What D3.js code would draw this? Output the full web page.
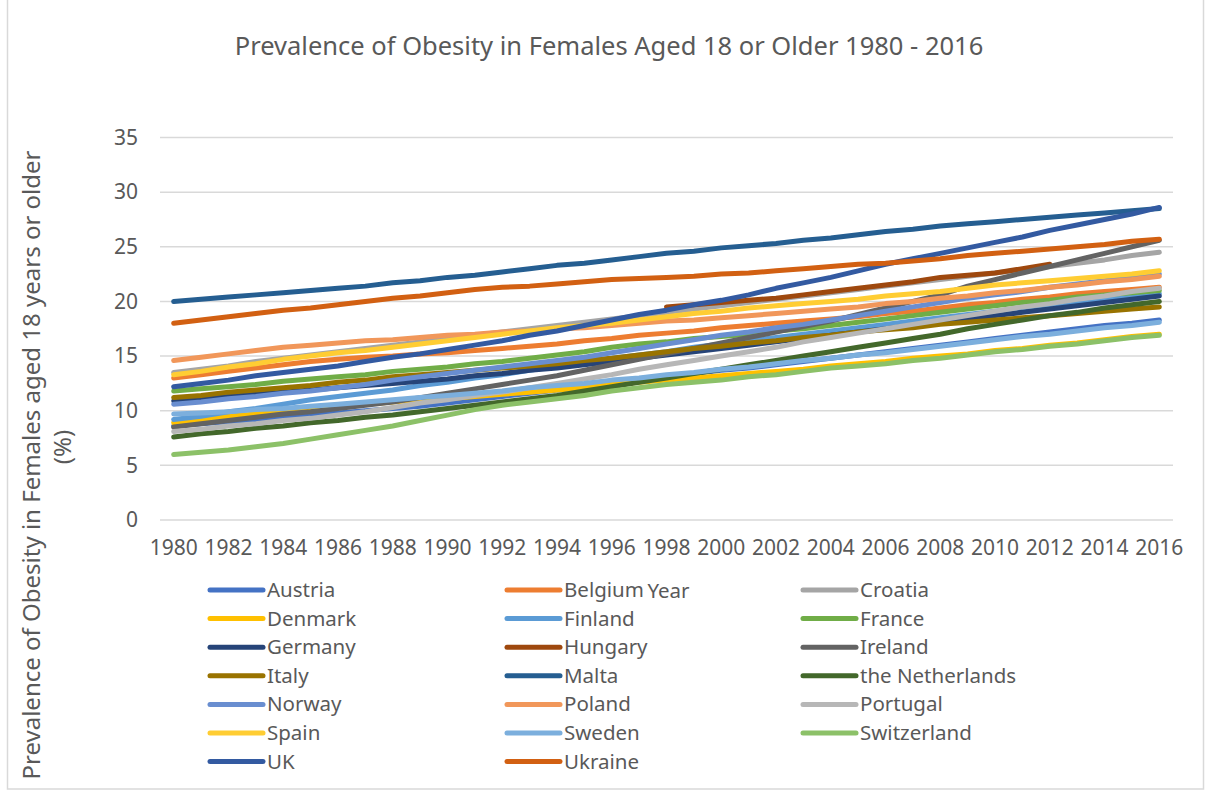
<!DOCTYPE html>
<html>
<head>
<meta charset="utf-8">
<script src="https://cdn.jsdelivr.net/npm/d3@7"></script>
<style>
  body { margin: 0; background: #fff; }
  text { font-family: "Noto Sans", "Open Sans", sans-serif; fill: #595959; }
</style>
</head>
<body>
<div id="chart"></div>
<script>
// years on the category axis
const years = [1980,1981,1982,1983,1984,1985,1986,1987,1988,1989,
               1990,1991,1992,1993,1994,1995,1996,1997,1998,1999,
               2000,2001,2002,2003,2004,2005,2006,2007,2008,2009,
               2010,2011,2012,2013,2014,2015,2016];
const xTickLabels = [1980,1982,1984,1986,1988,1990,1992,1994,1996,1998,
                     2000,2002,2004,2006,2008,2010,2012,2014,2016];
const yTicks = [0,5,10,15,20,25,30,35];

const countries = ["Austria","Belgium","Croatia","Denmark","Finland","France","Germany",
                   "Hungary","Ireland","Italy","Malta","the Netherlands","Norway","Poland",
                   "Portugal","Spain","Sweden","Switzerland","UK","Ukraine"];
const colors = ["#4472C4","#ED7D31","#A5A5A5","#FFC000","#5B9BD5","#70AD47","#264478",
                "#9E480E","#636363","#997300","#255E91","#43682B","#698ED0","#F1975A",
                "#B7B7B7","#FFCD33","#7CAFDD","#8CC168","#335AA1","#D26012"];

// obesity prevalence (%) per year
const austria = [8.6,8.8,9.0,9.2,9.4,9.6,9.8,10.0,10.2,10.4, 10.7,11.0,11.3,11.6,11.9,12.2,12.5,12.8,13.1,13.4,
                 13.7,13.9,14.2,14.5,14.8,15.1,15.4,15.7,16.0,16.3, 16.6,16.9,17.2,17.5,17.8,18.0,18.3];
const belgium = [13.0,13.3,13.6,13.9,14.2,14.5,14.7,14.9,15.0,15.2, 15.3,15.5,15.7,15.9,16.1,16.4,16.6,16.9,17.1,17.3,
                 17.6,17.8,18.0,18.2,18.4,18.6,18.9,19.1,19.4,19.7, 19.9,20.2,20.4,20.7,20.9,21.1,21.3];
const croatia = [13.5,13.8,14.1,14.5,14.8,15.1,15.4,15.7,16.0,16.3, 16.6,16.9,17.2,17.5,17.8,18.1,18.4,18.7,19.0,19.3,
                 19.6,19.9,20.2,20.5,20.8,21.1,21.4,21.7,22.0,22.3, 22.6,22.9,23.2,23.5,23.8,24.2,24.5];
const denmark = [8.9,9.2,9.5,9.7,10.0,10.2,10.4,10.6,10.8,11.0, 11.1,11.3,11.5,11.7,11.9,12.1,12.4,12.6,12.8,13.0,
                 13.2,13.4,13.6,13.8,14.1,14.3,14.5,14.8,15.0,15.2, 15.5,15.7,16.0,16.2,16.5,16.8,17.0];
const finland = [9.2,9.5,9.9,10.2,10.6,11.0,11.3,11.6,11.9,12.3, 12.6,13.0,13.3,13.7,14.1,14.4,14.8,15.1,15.4,15.8,
                 16.1,16.4,16.7,17.0,17.3,17.6,17.9,18.2,18.5,18.8, 19.1,19.4,19.7,20.0,20.2,20.5,20.7];
const france = [11.8,12.0,12.2,12.4,12.7,12.9,13.1,13.3,13.6,13.8, 14.0,14.3,14.5,14.8,15.1,15.4,15.8,16.1,16.3,16.6,
                16.8,17.0,17.3,17.5,17.8,18.1,18.4,18.7,19.0,19.3, 19.6,19.9,20.1,20.4,20.6,20.8,21.0];
const germany = [10.9,11.1,11.3,11.5,11.7,11.9,12.1,12.3,12.5,12.7, 12.9,13.2,13.4,13.7,13.9,14.2,14.5,14.8,15.1,15.4,
                 15.7,16.0,16.3,16.6,16.9,17.2,17.5,17.8,18.1,18.4, 18.7,19.0,19.3,19.6,19.9,20.2,20.5];
const hungary = [null,null,null,null,null,null,null,null,null,null, null,null,null,null,null,null,null,null,19.5,19.7,
                 19.9,20.1,20.3,20.6,20.9,21.2,21.5,21.8,22.2,22.4, 22.6,23.0,23.4,null,null,null,null];
const ireland = [8.5,8.8,9.1,9.4,9.7,9.9,10.2,10.5,10.8,11.2, 11.6,12.0,12.4,12.8,13.2,13.7,14.2,14.7,15.2,15.7,
                 16.2,16.7,17.2,17.7,18.2,18.8,19.4,20.0,20.6,21.4, 22.0,22.6,23.2,23.8,24.4,25.0,25.6];
const italy = [11.2,11.4,11.7,11.9,12.1,12.3,12.6,12.8,13.1,13.3, 13.5,13.7,13.9,14.1,14.3,14.6,14.8,15.1,15.4,15.7,
               15.9,16.2,16.4,16.7,16.9,17.2,17.4,17.6,17.9,18.1, 18.3,18.5,18.7,18.9,19.1,19.3,19.5];
const malta = [20.0,20.2,20.4,20.6,20.8,21.0,21.2,21.4,21.7,21.9, 22.2,22.4,22.7,23.0,23.3,23.5,23.8,24.1,24.4,24.6,
               24.9,25.1,25.3,25.6,25.8,26.1,26.4,26.6,26.9,27.1, 27.3,27.5,27.7,27.9,28.1,28.3,28.5];
const netherlands = [7.6,7.9,8.1,8.4,8.6,8.9,9.1,9.4,9.6,9.9, 10.2,10.5,10.8,11.1,11.4,11.8,12.2,12.6,13.0,13.4,
                     13.8,14.2,14.6,15.0,15.4,15.8,16.2,16.6,17.0,17.5, 17.9,18.3,18.7,19.0,19.4,19.7,20.0];
const norway = [10.6,10.8,11.1,11.3,11.6,11.8,12.1,12.4,12.8,13.1, 13.4,13.7,14.0,14.3,14.6,14.9,15.3,15.7,16.1,16.5,
                16.9,17.2,17.6,17.9,18.3,18.7,19.1,19.5,19.9,20.3, 20.6,20.9,21.3,21.6,21.9,22.2,22.5];
const poland = [14.6,14.9,15.2,15.5,15.8,16.0,16.2,16.4,16.5,16.7, 16.9,17.0,17.2,17.3,17.5,17.6,17.8,18.0,18.2,18.3,
                18.5,18.7,18.9,19.1,19.3,19.5,19.8,20.0,20.3,20.5, 20.8,21.0,21.3,21.5,21.8,22.0,22.3];
const portugal = [8.1,8.3,8.6,8.8,9.1,9.3,9.6,9.9,10.3,10.7, 11.0,11.4,11.7,12.1,12.5,12.9,13.3,13.8,14.2,14.6,
                  15.0,15.4,15.8,16.3,16.7,17.1,17.5,17.9,18.3,18.7, 19.1,19.5,19.8,20.2,20.5,20.9,21.2];
const spain = [13.3,13.6,14.0,14.3,14.7,15.0,15.3,15.5,15.8,16.1, 16.4,16.7,17.0,17.3,17.6,17.8,18.0,18.3,18.6,18.9,
               19.1,19.4,19.6,19.8,20.0,20.2,20.5,20.7,20.9,21.2, 21.5,21.7,21.9,22.1,22.3,22.5,22.8];
const sweden = [9.7,9.8,9.9,10.1,10.2,10.4,10.6,10.8,11.0,11.2, 11.4,11.6,11.8,12.1,12.3,12.5,12.8,13.0,13.3,13.5,
                13.8,14.0,14.3,14.6,14.8,15.1,15.3,15.6,15.9,16.2, 16.5,16.8,17.0,17.3,17.6,17.8,18.1];
const switzerland = [6.0,6.2,6.4,6.7,7.0,7.4,7.8,8.2,8.6,9.1, 9.6,10.1,10.5,10.8,11.1,11.4,11.8,12.1,12.4,12.6,
                     12.8,13.1,13.3,13.6,13.9,14.1,14.3,14.6,14.8,15.1, 15.4,15.6,15.9,16.1,16.4,16.7,16.9];
const uk = [12.2,12.5,12.8,13.2,13.5,13.8,14.1,14.5,14.9,15.2, 15.6,16.0,16.4,16.9,17.3,17.8,18.3,18.8,19.2,19.7,
            20.1,20.6,21.2,21.7,22.2,22.8,23.4,23.9,24.4,24.9, 25.4,25.9,26.5,27.0,27.5,28.0,28.6];
const ukraine = [18.0,18.3,18.6,18.9,19.2,19.4,19.7,20.0,20.3,20.5, 20.8,21.1,21.3,21.4,21.6,21.8,22.0,22.1,22.2,22.3,
                 22.5,22.6,22.8,23.0,23.2,23.4,23.5,23.7,23.9,24.2, 24.4,24.6,24.8,25.0,25.2,25.5,25.7];

const seriesValues = [austria, belgium, croatia, denmark, finland, france, germany, hungary, ireland,
                      italy, malta, netherlands, norway, poland, portugal, spain, sweden, switzerland, uk, ukraine];

/*
    Draws the whole chart: frame, title, grid, axes, lines and legend
*/
function renderChart() {
    const width = 1209;
    const height = 791;
    const plot = { left: 160, right: 1173, top: 137.5, bottom: 520 };

    const svg = d3.select("#chart").append("svg")
        .attr("width", width)
        .attr("height", height);

    // chart frame
    svg.append("rect")
        .attr("x", 7.5).attr("y", -10)
        .attr("width", 1196).attr("height", 799)
        .attr("fill", "none")
        .attr("stroke", "#d9d9d9")
        .attr("stroke-width", 1.5);

    const x = d3.scaleBand().domain(years).range([plot.left, plot.right]).padding(0);
    const y = d3.scaleLinear().domain([0, 35]).range([plot.bottom, plot.top]);
    const cx = d => x(d) + x.bandwidth() / 2;

    // title
    svg.append("text")
        .attr("x", 609).attr("y", 55)
        .attr("text-anchor", "middle")
        .style("font-size", "25.5px")
        .text("Prevalence of Obesity in Females Aged 18 or Older 1980 - 2016");

    // gridlines
    svg.append("g").selectAll("line")
        .data(yTicks)
        .enter().append("line")
        .attr("x1", plot.left).attr("x2", plot.right)
        .attr("y1", d => y(d)).attr("y2", d => y(d))
        .attr("stroke", "#d9d9d9")
        .attr("stroke-width", 1.5);

    // y axis labels
    const yAxis = svg.append("g")
        .attr("transform", `translate(${plot.left - 22},0)`)
        .call(d3.axisLeft(y).tickValues(yTicks).tickSize(0).tickPadding(0));
    yAxis.select(".domain").remove();
    yAxis.selectAll("text")
        .style("font-size", "21px")
        .style("font-family", "'Noto Sans', sans-serif")
        .attr("fill", "#595959");

    // x axis labels (every second year)
    const xAxis = svg.append("g")
        .attr("transform", `translate(0,${plot.bottom + 20})`)
        .call(d3.axisBottom(x).tickValues(xTickLabels).tickSize(0).tickPadding(0));
    xAxis.select(".domain").remove();
    xAxis.selectAll("text")
        .style("font-size", "21px")
        .style("font-family", "'Noto Sans', sans-serif")
        .attr("fill", "#595959");

    // axis titles
    svg.append("text")
        .attr("transform", "translate(40,465) rotate(-90)")
        .attr("text-anchor", "middle")
        .style("font-size", "24px")
        .text("Prevalence of Obesity in Females aged 18 years or older");
    svg.append("text")
        .attr("transform", "translate(71,447) rotate(-90)")
        .attr("text-anchor", "middle")
        .style("font-size", "24px")
        .text("(%)");

    // lines, later series drawn on top
    const line = d3.line()
        .defined(d => d.value != null)
        .x(d => cx(d.year))
        .y(d => y(d.value));

    svg.append("g").selectAll("path")
        .data(seriesValues.map((vals, i) => ({
            name: countries[i],
            color: colors[i],
            points: years.map((yr, j) => ({ year: yr, value: vals[j] }))
        })))
        .enter().append("path")
        .attr("d", d => line(d.points))
        .attr("fill", "none")
        .attr("stroke", d => d.color)
        .attr("stroke-width", 5)
        .attr("stroke-linecap", "round")
        .attr("stroke-linejoin", "round");

    // legend, three columns filled row by row
    const colX = [210, 507, 803];
    const legend = svg.append("g").selectAll("g")
        .data(countries)
        .enter().append("g")
        .attr("transform", (d, i) => `translate(${colX[i % 3]},${590 + Math.floor(i / 3) * 28.6})`);
    legend.append("line")
        .attr("x1", 0).attr("x2", 53)
        .attr("stroke", (d, i) => colors[i])
        .attr("stroke-width", 5)
        .attr("stroke-linecap", "round");
    legend.append("text")
        .attr("x", 57).attr("y", 7)
        .style("font-size", "20.5px")
        .text(d => d);

    // x axis title, sits right on top of the legend like the original
    svg.append("text")
        .attr("x", (plot.left + plot.right) / 2 + 2).attr("y", 598)
        .attr("text-anchor", "middle")
        .style("font-size", "20.5px")
        .text("Year");
}

renderChart();
</script>
</body>
</html>
